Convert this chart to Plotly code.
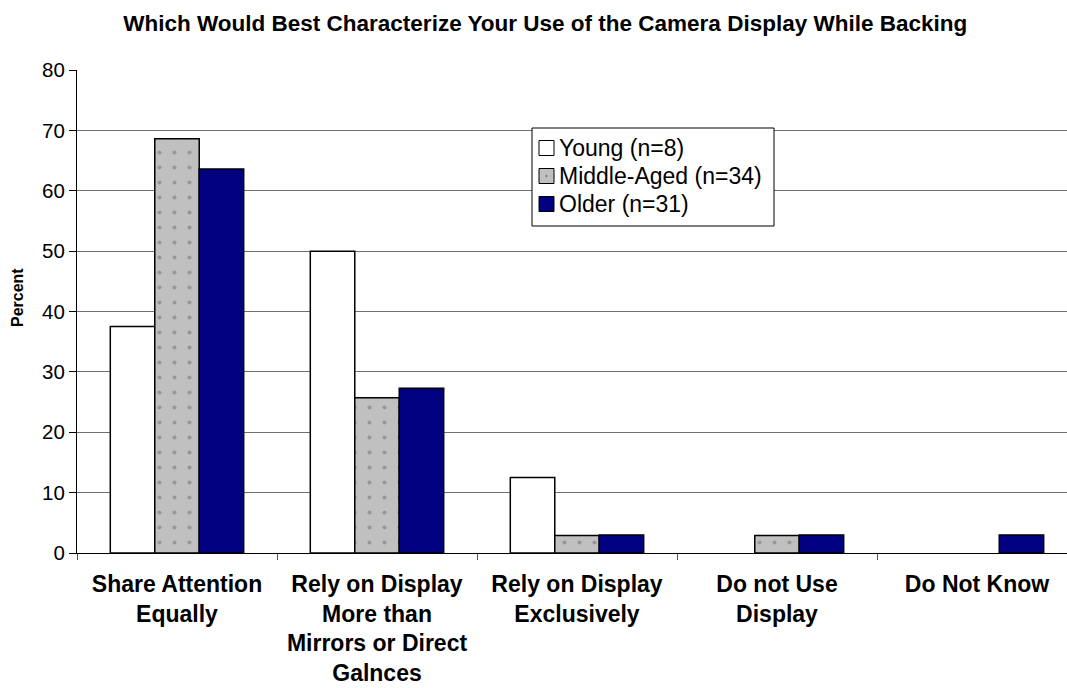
import plotly.graph_objects as go

categories = [
    "Share Attention<br>Equally",
    "Rely on Display<br>More than<br>Mirrors or Direct<br>Galnces",
    "Rely on Display<br>Exclusively",
    "Do not Use<br>Display",
    "Do Not Know",
]
young = [37.5, 50.0, 12.5, 0.0, 0.0]
middle_aged = [68.6, 25.7, 2.9, 2.9, 0.0]
older = [63.6, 27.3, 3.0, 3.0, 3.0]

series_names = ["Young (n=8)", "Middle-Aged (n=34)", "Older (n=31)"]
series_colors = ["white", "#C0C0C0", "#000080"]
y_ticks = [0, 10, 20, 30, 40, 50, 60, 70, 80]

FONT = "Liberation Sans, Arial, sans-serif"

W, H = 1067, 688
M_L, M_R, M_T, M_B = 77, 0, 70, 135
PLOT_W = W - M_L - M_R
PLOT_H = H - M_T - M_B


def px_x(px):
    """Page pixel column -> paper x."""
    return (px - M_L) / PLOT_W


def px_y(py):
    """Page pixel row -> paper y."""
    return (H - M_B - py) / PLOT_H


def outline(values):
    # no outline on empty bars, so zero values leave no stub on the axis
    return [1.5 if v > 0 else 0 for v in values]


fig = go.Figure()
fig.add_trace(go.Bar(
    name=series_names[0], x=categories, y=young,
    marker=dict(color=series_colors[0], line=dict(color="black", width=outline(young))),
))
fig.add_trace(go.Bar(
    name=series_names[1], x=categories, y=middle_aged,
    marker=dict(
        color=series_colors[1],
        line=dict(color="black", width=outline(middle_aged)),
        pattern=dict(shape=".", fgcolor="#6e6e6e", bgcolor=series_colors[1],
                     size=15, solidity=0.06),
    ),
))
fig.add_trace(go.Bar(
    name=series_names[2], x=categories, y=older,
    marker=dict(color=series_colors[2], line=dict(color="black", width=outline(older))),
))

# Boxed legend in the upper middle of the plot
shapes = [dict(
    type="rect", xref="paper", yref="paper", layer="above",
    x0=px_x(532), x1=px_x(774), y0=px_y(226), y1=px_y(128),
    fillcolor="white", line=dict(color="black", width=1),
)]
annotations = []
for i, (name, color) in enumerate(zip(series_names, series_colors)):
    cy = 148 + 28 * i
    shapes.append(dict(
        type="rect", xref="paper", yref="paper", layer="above",
        x0=px_x(539), x1=px_x(554), y0=px_y(cy + 7.5), y1=px_y(cy - 7.5),
        fillcolor=color, line=dict(color="black", width=1),
    ))
    annotations.append(dict(
        text=name, xref="paper", yref="paper",
        x=px_x(557), y=px_y(cy), xanchor="left", yanchor="middle",
        showarrow=False, font=dict(size=23, family=FONT, color="black"),
    ))
# small dot inside the middle-aged swatch
shapes.append(dict(
    type="circle", xref="paper", yref="paper", layer="above",
    x0=px_x(545.5), x1=px_x(547.5), y0=px_y(177), y1=px_y(175),
    fillcolor="#6e6e6e", line=dict(width=0),
))

annotations.append(dict(
    text="<b>Percent</b>", textangle=-90,
    xref="paper", yref="paper", x=px_x(17), y=px_y(298),
    xanchor="center", yanchor="middle", showarrow=False,
    font=dict(size=16, family=FONT),
))

fig.update_layout(
    width=W, height=H,
    margin=dict(l=M_L, r=M_R, t=M_T, b=M_B, autoexpand=False),
    paper_bgcolor="white", plot_bgcolor="white",
    font=dict(family=FONT, color="black"),
    barmode="group", bargap=0.333, bargroupgap=0,
    title=dict(
        text="<b>Which Would Best Characterize Your Use of the Camera Display While Backing</b>",
        x=0.511, xanchor="center", y=0.967, yanchor="middle",
        font=dict(size=22.5, family=FONT),
    ),
    showlegend=False,
    shapes=shapes,
    annotations=annotations,
)

fig.update_xaxes(
    type="category", range=[-0.5, 4.45], automargin=False,
    tickson="boundaries", ticks="outside", ticklen=6, tickcolor="#555",
    showline=True, linecolor="black", linewidth=1,
    showgrid=False,
    tickfont=dict(size=23, family=FONT),
    tickangle=0, ticklabelstandoff=10,
    categoryorder="array", categoryarray=categories,
    tickvals=categories,
    ticktext=["<b>" + c.replace("<br>", "</b><br><b>") + "</b>" for c in categories],
)

fig.update_yaxes(
    range=[0, 80], tickvals=y_ticks, automargin=False,
    ticks="outside", ticklen=7, tickcolor="black",
    showline=True, linecolor="black", linewidth=1,
    showgrid=True, gridcolor="#707070", gridwidth=1,
    zeroline=False,
    tickfont=dict(size=20.5, family=FONT),
)

fig.write_html("out.html")
